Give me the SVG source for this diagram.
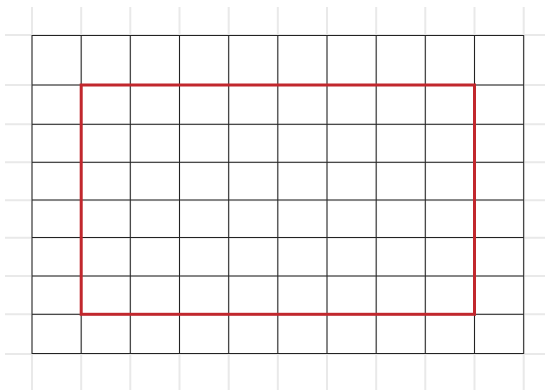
<svg xmlns="http://www.w3.org/2000/svg" width="545" height="390" viewBox="0 0 545 390">
<style>
.bg{stroke:#e9e9e9;stroke-width:2;fill:none}
.g{stroke:#222;stroke-width:1;fill:none}
.r{stroke:#c1272d;stroke-width:3;fill:none}
</style>
<rect width="545" height="390" fill="#fff"/>
<g id="background-grid" class="bg">
<path d="M32,7V390M81.2,7V390M130.3,7V390M179.5,7V390M228.7,7V390M277.8,7V390M327,7V390M376.2,7V390M425.3,7V390M474.5,7V390M523.7,7V390"/>
<path d="M5,35H545M5,85H545M5,124.3H545M5,162.3H545M5,200.3H545M5,237.8H545M5,276H545M5,314.3H545M5,354H545"/>
</g>
<g id="grid" class="g">
<path d="M32,35V354M81.2,35V354M130.3,35V354M179.5,35V354M228.7,35V354M277.8,35V354M327,35V354M376.2,35V354M425.3,35V354M474.5,35V354M523.7,35V354"/>
<path d="M32,35.5H523.7M32,85H523.7M32,124.3H523.7M32,162.3H523.7M32,200H523.7M32,237.5H523.7M32,276H523.7M32,314.3H523.7M32,353.5H523.7"/>
</g>
<g id="red-rectangle">
<rect class="r" x="81.2" y="85" width="393.3" height="229.3"/>
</g>
</svg>
